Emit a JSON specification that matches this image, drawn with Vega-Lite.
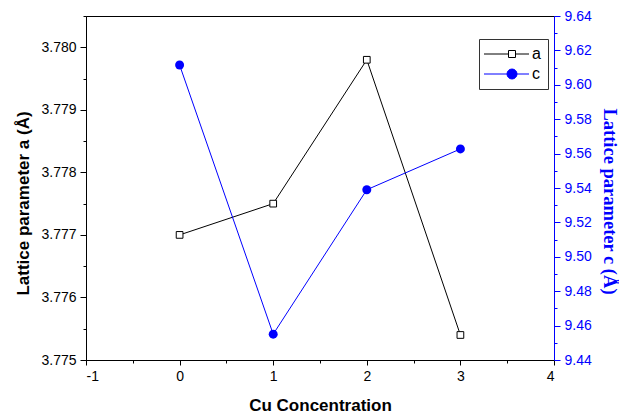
{
  "$schema": "https://vega.github.io/schema/vega-lite/v6.json",
  "width": 468,
  "height": 344,
  "autosize": "none",
  "padding": {"left": 86, "top": 16, "right": 65, "bottom": 55},
  "background": "white",
  "config": {
    "view": {"stroke": "black", "strokeWidth": 1},
    "font": "Liberation Sans",
    "axis": {"labelFont": "Liberation Sans", "labelFontSize": 14, "grid": false, "tickColor": "black", "domainColor": "black", "labelColor": "black"},
    "legend": {"title": null, "orient": "none", "legendX": 393, "legendY": 23, "strokeColor": "#333", "padding": 7, "labelFont": "Liberation Sans", "labelFontSize": 16, "labelColor": "black", "labelOffset": 30, "rowPadding": 4, "symbolStrokeWidth": 1, "symbolOpacity": 1}
  },
  "data": {
    "values": [
      {"conc": 0, "series": "a", "v": 3.7770},
      {"conc": 1, "series": "a", "v": 3.7775},
      {"conc": 2, "series": "a", "v": 3.7798},
      {"conc": 3, "series": "a", "v": 3.7754},
      {"conc": 0, "series": "c", "v": 9.6115},
      {"conc": 1, "series": "c", "v": 9.455},
      {"conc": 2, "series": "c", "v": 9.539},
      {"conc": 3, "series": "c", "v": 9.5627}
    ]
  },
  "layer": [
    {
      "transform": [{"filter": "datum.series === 'a'"}],
      "mark": {"type": "line", "color": "black", "strokeWidth": 1},
      "encoding": {
        "x": {"field": "conc", "type": "quantitative", "scale": {"domain": [-1, 4], "nice": false, "zero": false},
          "axis": {"orient": "bottom", "values": [-1, -0.5, 0, 0.5, 1, 1.5, 2, 2.5, 3, 3.5, 4], "tickCount": 100,
            "labelExpr": "datum.value % 1 === 0 ? datum.value + '' : ''",
            "tickSize": {"condition": {"test": "datum.value % 1 === 0", "value": 5}, "value": 3},
            "labelPadding": 4, "title": "Cu Concentration", "titleFont": "Liberation Sans", "titleFontSize": 17, "titleFontWeight": "bold", "titleColor": "black", "titlePadding": 14, "domainColor": "black"}},
        "y": {"field": "v", "type": "quantitative", "scale": {"domain": [3.775, 3.7805], "nice": false, "zero": false},
          "axis": {"orient": "left", "tickCount": 11,
            "labelExpr": "abs(datum.value * 1000 - round(datum.value * 1000)) < 0.01 ? format(datum.value, '.3f') : ''",
            "tickSize": {"condition": {"test": "abs(datum.value * 1000 - round(datum.value * 1000)) < 0.01", "value": 6}, "value": 3},
            "labelPadding": 4, "title": "Lattice parameter a (Å)", "titleFont": "Liberation Sans", "titleFontSize": 17, "titleFontWeight": "bold", "titleColor": "black", "titlePadding": 8, "titleY": 187}}
      }
    },
    {
      "transform": [{"filter": "datum.series === 'a'"}],
      "mark": {"type": "point", "shape": "square", "filled": true, "fill": "white", "stroke": "black", "strokeWidth": 1, "size": 45, "opacity": 1},
      "encoding": {
        "x": {"field": "conc", "type": "quantitative", "axis": null},
        "y": {"field": "v", "type": "quantitative", "scale": {"domain": [3.775, 3.7805], "nice": false, "zero": false}, "axis": null}
      }
    },
    {
      "transform": [{"filter": "datum.series === 'c'"}],
      "mark": {"type": "line", "color": "blue", "strokeWidth": 1},
      "encoding": {
        "x": {"field": "conc", "type": "quantitative", "axis": null},
        "y": {"field": "v", "type": "quantitative", "scale": {"domain": [9.44, 9.64], "nice": false, "zero": false},
          "axis": {"orient": "right", "tickCount": 20,
            "labelExpr": "abs(datum.value * 50 - round(datum.value * 50)) < 0.01 ? format(datum.value, '.2f') : ''",
            "tickSize": {"condition": {"test": "abs(datum.value * 50 - round(datum.value * 50)) < 0.01", "value": 6}, "value": 3},
            "labelPadding": 4, "tickColor": "blue", "domainColor": "blue", "labelColor": "blue", "title": "Lattice parameter c (Å)", "titleFont": "Liberation Serif", "titleFontSize": 18.5, "titleFontWeight": "bold", "titleColor": "blue", "titlePadding": 8, "titleY": 185}}
      }
    },
    {
      "transform": [{"filter": "datum.series === 'c'"}],
      "mark": {"type": "point", "shape": "circle", "filled": true, "color": "blue", "size": 80, "opacity": 1},
      "encoding": {
        "x": {"field": "conc", "type": "quantitative", "axis": null},
        "y": {"field": "v", "type": "quantitative", "scale": {"domain": [9.44, 9.64], "nice": false, "zero": false}, "axis": null}
      }
    },
    {
      "transform": [{"filter": "false"}],
      "mark": {"type": "point", "filled": true, "strokeWidth": 1, "size": 100, "opacity": 1},
      "encoding": {
        "shape": {"field": "series", "type": "nominal",
          "scale": {"domain": ["a", "c"], "range": ["M-2,0H2.9M4.3,0H7M2.9,-0.7H4.3V0.7H2.9Z", "M-2,0H7M4.6,0A1,1,0,1,1,2.6,0A1,1,0,1,1,4.6,0Z"]}},
        "stroke": {"field": "series", "type": "nominal", "scale": {"domain": ["a", "c"], "range": ["black", "blue"]}},
        "fill": {"field": "series", "type": "nominal", "scale": {"domain": ["a", "c"], "range": ["white", "blue"]}}
      }
    }
  ],
  "resolve": {
    "scale": {"y": "independent"},
    "axis": {"x": "independent", "y": "independent"}
  }
}
